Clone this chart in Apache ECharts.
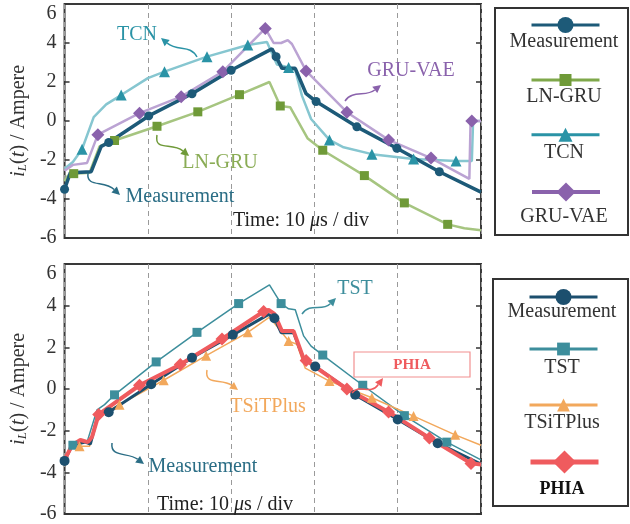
<!DOCTYPE html>
<html><head><meta charset="utf-8">
<script src="https://cdn.jsdelivr.net/npm/echarts@6/dist/echarts.min.js"></script>
<style>html,body{margin:0;padding:0;background:#fff}#c{width:630px;height:524px}</style>
</head><body><div id="c"></div>
<script>
// ---------- DATA (time in microseconds, current in A) ----------
const yTicks = [-6, -4, -2, 0, 2, 4, 6];
const topNames = ['Measurement', 'LN-GRU', 'TCN', 'GRU-VAE'];
const botNames = ['Measurement', 'TST', 'TSiTPlus', 'PHIA'];

// top panel
const measTopT = [0, 0.7, 3.2, 4.4, 5.3, 10.1, 15.3, 20.0, 24.9, 25.4, 26.1, 27.7, 29.0, 30.2, 35.1, 39.9, 45.0, 50];
const measTopV = [-3.5, -2.65, -2.6, -1.3, -1.1, 0.26, 1.4, 2.6, 3.7, 3.3, 2.7, 2.7, 1.4, 1.0, -0.3, -1.4, -2.6, -3.65];
const measTopMk = [0, 5.3, 10.1, 15.3, 20.0, 25.4, 30.2, 35.1, 39.9, 45.0];

const lngruT = [0, 0.4, 1.1, 3.0, 4.2, 6.0, 11.1, 16.0, 21.0, 24.6, 25.9, 27.1, 29.2, 31.0, 36.0, 40.8, 46.0, 48.0, 50];
const lngruV = [-3.1, -2.8, -2.7, -2.65, -1.3, -1.0, -0.27, 0.47, 1.35, 2.0, 0.77, 0.7, -0.9, -1.5, -2.8, -4.2, -5.3, -5.5, -5.6];
const lngruMk = [1.1, 6.0, 11.1, 16.0, 21.0, 25.9, 31.0, 36.0, 40.8, 46.0];

const tcnT = [0, 1.0, 2.1, 3.5, 5.0, 6.8, 10.0, 12.0, 17.1, 22.0, 24.3, 25.5, 26.9, 27.7, 28.5, 29.6, 31.8, 33.5, 36.9, 41.9, 47.0, 48.9, 49.05, 50];
const tcnV = [-2.45, -2.1, -1.45, 0.2, 0.85, 1.33, 2.2, 2.53, 3.3, 3.9, 4.05, 2.9, 2.75, 2.6, 1.3, 0.1, -0.97, -1.35, -1.7, -1.95, -2.05, -2.05, 0, 0];
const tcnMk = [2.1, 6.8, 12.0, 17.1, 22.0, 26.9, 31.8, 36.9, 41.9, 47.0];

const gruvaeT = [0, 1.0, 2.7, 4.0, 9.0, 14.0, 19.0, 24.1, 25.1, 26.0, 26.8, 27.3, 29.0, 33.9, 38.9, 44.0, 48.6, 48.75, 48.9, 50];
const gruvaeV = [-2.55, -2.25, -2.15, -0.7, 0.4, 1.25, 2.53, 4.75, 4.0, 4.0, 4.15, 3.95, 2.57, 0.45, -0.97, -1.9, -2.97, 0, 0, 0];
const gruvaeMk = [4.0, 9.0, 14.0, 19.0, 24.1, 29.0, 33.9, 38.9, 44.0, 48.9];

// bottom panel
const measBotT = [0, 0.9, 2.5, 3.1, 4.0, 5.3, 10.4, 15.3, 20.2, 24.5, 25.2, 26.0, 27.5, 28.7, 30.1, 34.9, 40.0, 44.8, 50];
const measBotV = [-3.45, -2.7, -2.55, -2.65, -1.25, -1.12, 0.23, 1.5, 2.6, 3.58, 3.4, 2.7, 2.7, 1.45, 1.08, -0.28, -1.46, -2.6, -3.6];
const measBotMk = [0, 5.3, 10.4, 15.3, 20.2, 25.2, 30.1, 34.9, 40.0, 44.8];

const tstT = [0, 1.0, 1.9, 2.7, 3.9, 4.8, 6.0, 11.0, 15.9, 20.9, 24.6, 26.0, 26.9, 27.7, 28.7, 29.6, 31.0, 35.8, 40.8, 45.9, 50];
const tstV = [-3.4, -2.7, -2.45, -2.55, -1.0, -0.75, -0.28, 1.3, 2.72, 4.1, 5.0, 4.1, 3.85, 3.8, 2.55, 2.06, 1.63, 0.18, -1.28, -2.55, -3.4];
const tstMk = [1.0, 6.0, 11.0, 15.9, 20.9, 26.0, 31.0, 35.8, 40.8, 45.9];

const tsitT = [0, 0.8, 1.8, 3.0, 4.0, 6.6, 11.9, 17.0, 22.0, 24.6, 26.9, 27.9, 28.9, 31.8, 36.9, 41.9, 46.9, 50];
const tsitV = [-3.4, -2.75, -2.75, -2.75, -1.3, -0.75, 0.42, 1.6, 2.72, 3.45, 2.3, 2.15, 1.0, 0.38, -0.42, -1.3, -2.2, -2.7];
const tsitMk = [1.8, 6.6, 11.9, 17.0, 22.0, 26.9, 31.8, 36.9, 41.9, 46.9];

const phiaT = [0, 0.9, 1.9, 2.8, 3.3, 4.1, 9.0, 13.9, 18.9, 23.9, 24.5, 25.2, 26.1, 27.5, 28.7, 29.0, 33.9, 38.9, 43.8, 48.8, 50];
const phiaV = [-3.4, -2.7, -2.45, -2.55, -2.3, -1.22, 0.18, 1.18, 2.4, 3.72, 3.8, 3.6, 2.78, 2.78, 1.45, 1.37, 0.0, -1.1, -2.35, -3.57, -3.62];
const phiaMk = [4.1, 9.0, 13.9, 18.9, 23.9, 29.0, 33.9, 38.9, 43.8, 48.8];

// ---------- CHART ----------
const FONT = "'Liberation Serif','Times New Roman',serif";
const chart = echarts.init(document.getElementById('c'));

function series(name, panel, t, v, mk, sym, size, color, lineColor, width) {
  return {
    name: name, type: 'line', xAxisIndex: panel, yAxisIndex: panel * 2,
    data: t.map((x, i) => ({ value: [x, v[i]], symbol: mk.indexOf(x) >= 0 ? sym : 'none' })),
    symbol: sym, symbolSize: size, showSymbol: true, showAllSymbol: true,
    itemStyle: { color: color }, lineStyle: { color: lineColor, width: width },
    emphasis: { disabled: true }, silent: true
  };
}

function yAx(grid, right) {
  return {
    type: 'value', gridIndex: grid, min: -6, max: 6, interval: 2, position: right ? 'right' : 'left',
    axisLine: { show: false },
    axisTick: { show: true, inside: true, length: 5, lineStyle: { color: '#333', width: 1.5 } },
    splitLine: { show: false },
    axisLabel: right ? { show: false } : {
      show: true, margin: 8, fontSize: 20, color: '#333', fontFamily: FONT,
      verticalAlignMaxLabel: 'top'
    },
    name: right ? '' : '{i|i}{s|L}{n|(}{i|t}{n|) / Ampere}',
    nameLocation: 'middle', nameRotate: 90, nameGap: 30,
    nameTextStyle: {
      fontFamily: FONT, fontSize: 20, color: '#333',
      rich: {
        i: { fontFamily: FONT, fontSize: 21, fontStyle: 'italic', color: '#333' },
        s: { fontFamily: FONT, fontSize: 13, fontStyle: 'italic', color: '#333', verticalAlign: 'bottom' },
        n: { fontFamily: FONT, fontSize: 20, color: '#333' }
      }
    }
  };
}

function xAx(grid) {
  return {
    type: 'value', gridIndex: grid, min: 0, max: 50, interval: 10,
    axisLine: { show: false }, axisTick: { show: false }, axisLabel: { show: false },
    splitLine: { show: true, lineStyle: { color: '#9a9a9a', width: 1, type: [5, 4] } }
  };
}

function legend(name, left, top, h, color, lineColor, lw) {
  return {
    data: [{ name: name, itemStyle: { color: color }, lineStyle: { color: lineColor, width: lw } }],
    left: left, top: top, orient: 'vertical', itemWidth: 68, itemHeight: h, padding: 0,
    selectedMode: false, formatter: function () { return ''; }
  };
}

function arrow(p0, c1, c2, p1, color) {
  const a = Math.atan2(p1[1] - c2[1], p1[0] - c2[0]);
  const L = 8, W = 4;
  const bx = p1[0] - L * Math.cos(a), by = p1[1] - L * Math.sin(a);
  return [
    { type: 'bezierCurve', z: 20, silent: true,
      shape: { x1: p0[0], y1: p0[1], cpx1: c1[0], cpy1: c1[1], cpx2: c2[0], cpy2: c2[1], x2: bx, y2: by },
      style: { stroke: color, lineWidth: 1.5, fill: null } },
    { type: 'polygon', z: 20, silent: true,
      shape: { points: [[p1[0], p1[1]], [bx - W * Math.sin(a), by + W * Math.cos(a)], [bx + W * Math.sin(a), by - W * Math.cos(a)]] },
      style: { fill: color } }
  ];
}

function txt(str, x, y, color, size, weight, align) {
  return {
    type: 'text', z: 20, silent: true, x: x, y: y,
    style: {
      text: str, fill: color, font: (weight || 'normal') + ' ' + (size || 20) + 'px ' + FONT,
      align: align || 'center', verticalAlign: 'middle',
      rich: { i: { fontStyle: 'italic', fontSize: size || 20, fontFamily: FONT, fill: color } }
    }
  };
}

const C = {
  meas: '#1d5a78', measB: '#1c4f6e', measTxt: '#2a6d85',
  ln: '#6f9a38', lnL: '#a6c580', lnLeg: '#7fa84a', lnTxt: '#8aac55',
  tcn: '#2a93a6', tcnL: '#86c6d0',
  gv: '#8a62ac', gvL: '#bba3d3',
  tst: '#3d8e9c', tsit: '#f2a85c', phia: '#ef5b5e'
};

const graphics = [
  { type: 'rect', shape: { x: 495, y: 8, width: 133, height: 227 }, style: { stroke: '#333', lineWidth: 2, fill: 'none' }, silent: true },
  { type: 'rect', shape: { x: 493, y: 279, width: 135, height: 227 }, style: { stroke: '#333', lineWidth: 2, fill: 'none' }, silent: true },
  txt(topNames[0], 564, 42, '#333'), txt(topNames[1], 564, 97, '#333'),
  txt(topNames[2], 564, 153, '#333'), txt(topNames[3], 564, 217, '#333'),
  txt(botNames[0], 562, 312, '#333'), txt(botNames[1], 562, 368, '#333'),
  txt(botNames[2], 562, 423, '#333'), txt(botNames[3], 562, 489, '#111', 18, 'bold'),
  txt('Time: 10 {i|\u03bc}s / div', 233, 221, '#222', 20, 'normal', 'left'),
  txt('Time: 10 {i|\u03bc}s / div', 157, 505, '#222', 20, 'normal', 'left'),
  txt('TCN', 137, 35, C.tcn), txt('LN-GRU', 220, 163, C.lnTxt), txt('Measurement', 180, 197, C.measTxt),
  txt('GRU-VAE', 411, 71, C.gv),
  txt('TST', 355, 289, C.tst), txt('TSiTPlus', 268, 407, C.tsit), txt('Measurement', 203, 467, C.measTxt),
  { type: 'rect', z: 19, shape: { x: 354, y: 352, width: 116, height: 25 }, style: { stroke: '#f29090', lineWidth: 1.2, fill: '#fff' }, silent: true },
  txt('PHIA', 412, 365, C.phia, 15, 'bold')
].concat(
  arrow([197, 57], [190, 44], [178, 52], [161, 38], C.tcn),
  arrow([157, 135], [154, 152], [172, 142], [189, 156], C.ln),
  arrow([88, 173], [86, 188], [104, 180], [120, 195], C.measTxt),
  arrow([345, 101], [352, 90], [366, 97], [381, 85], C.gv),
  arrow([302, 314], [310, 302], [322, 312], [336, 298], C.tst),
  arrow([207, 370], [204, 386], [222, 378], [238, 390], C.tsit),
  arrow([112, 443], [110, 458], [128, 452], [144, 464], C.measTxt),
  arrow([352, 393], [360, 383], [370, 396], [383, 378], C.phia)
);

chart.setOption({
  animation: false,
  backgroundColor: '#fff',
  grid: [
    { left: 57, top: 4, width: 424, height: 234, show: true, borderColor: '#3a3a3a', borderWidth: 2, backgroundColor: 'transparent' },
    { left: 57, top: 264, width: 424, height: 255, show: true, borderColor: '#3a3a3a', borderWidth: 2, backgroundColor: 'transparent' }
  ],
  xAxis: [xAx(0), xAx(1)],
  yAxis: [yAx(0, false), yAx(0, true), yAx(1, false), yAx(1, true)],
  legend: [
    legend(topNames[0], 530, 15, 20, C.meas, C.meas, 3),
    legend(topNames[1], 530, 72.5, 15, C.ln, C.lnLeg, 3),
    legend(topNames[2], 530, 126, 17.5, C.tcn, C.tcn, 3),
    legend(topNames[3], 530, 180, 24, C.gv, C.gv, 4),
    legend(botNames[0], 528, 287, 20, C.measB, C.measB, 3),
    legend(botNames[1], 528, 341, 16, C.tst, C.tst, 3),
    legend(botNames[2], 528, 397, 16, C.tsit, C.tsit, 3),
    legend(botNames[3], 528, 447.5, 29, C.phia, C.phia, 5)
  ],
  series: [
    series(topNames[1], 0, lngruT, lngruV, lngruMk, 'rect', 9, C.ln, C.lnL, 2.5),
    series(topNames[2], 0, tcnT, tcnV, tcnMk, 'triangle', 11, C.tcn, C.tcnL, 2.5),
    series(topNames[3], 0, gruvaeT, gruvaeV, gruvaeMk, 'diamond', 13, C.gv, C.gvL, 2.5),
    series(topNames[0], 0, measTopT, measTopV, measTopMk, 'circle', 9, C.meas, C.meas, 3.5),
    series(botNames[1], 1, tstT, tstV, tstMk, 'rect', 9, C.tst, C.tst, 1.5),
    series(botNames[2], 1, tsitT, tsitV, tsitMk, 'triangle', 10, C.tsit, C.tsit, 1.5),
    series(botNames[0], 1, measBotT, measBotV, measBotMk, 'circle', 10, C.measB, C.measB, 3),
    series(botNames[3], 1, phiaT, phiaV, phiaMk, 'diamond', 13, C.phia, C.phia, 4)
  ],
  graphic: graphics
});
</script>
</body></html>
